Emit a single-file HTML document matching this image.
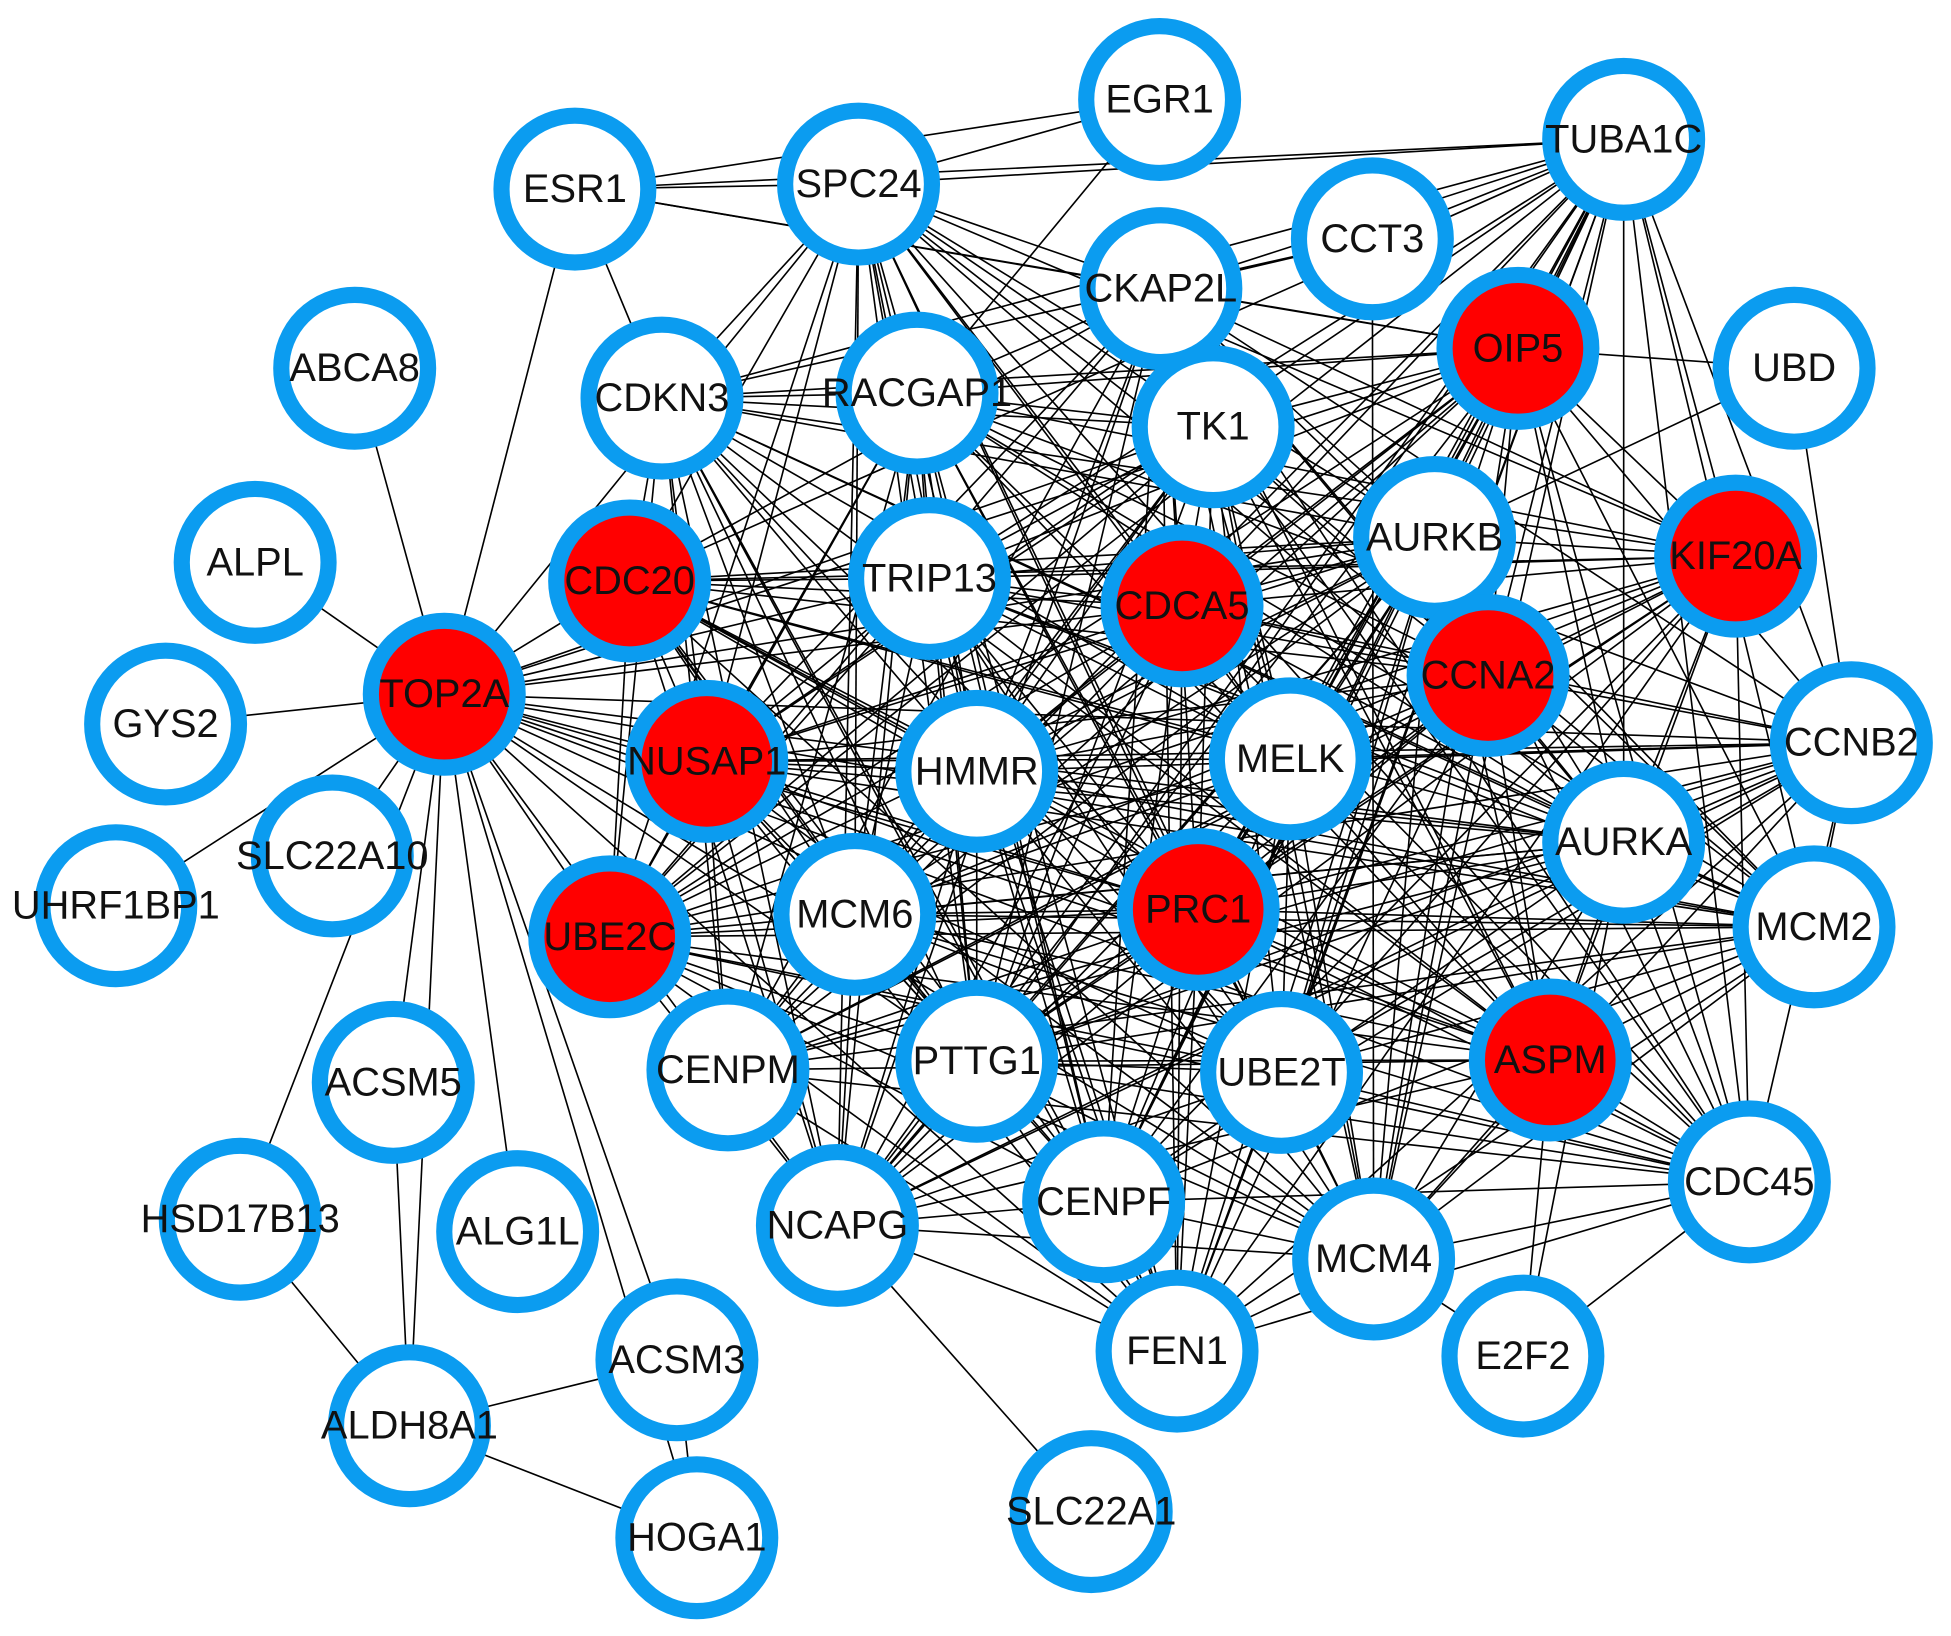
<!DOCTYPE html>
<html><head><meta charset="utf-8"><style>
html,body{margin:0;padding:0;background:#fff;}
svg{display:block;}
text{font-family:"Liberation Sans",Arial,sans-serif;font-size:32px;fill:#111;text-anchor:middle;dominant-baseline:central;}
</style></head><body>
<svg id="s" width="1951" height="1636" viewBox="0 0 1568 1315" xmlns="http://www.w3.org/2000/svg">
<g id="edges" stroke="#000" stroke-width="1.3"></g>
<g id="nodes">
<circle cx="932" cy="80" r="59" fill="#fff" stroke="#0b9cf0" stroke-width="13"/><text x="932" y="80">EGR1</text>
<circle cx="1305" cy="112" r="59" fill="#fff" stroke="#0b9cf0" stroke-width="13"/><text x="1305" y="112">TUBA1C</text>
<circle cx="462" cy="152" r="59" fill="#fff" stroke="#0b9cf0" stroke-width="13"/><text x="462" y="152">ESR1</text>
<circle cx="690" cy="148" r="59" fill="#fff" stroke="#0b9cf0" stroke-width="13"/><text x="690" y="148">SPC24</text>
<circle cx="1103" cy="192" r="59" fill="#fff" stroke="#0b9cf0" stroke-width="13"/><text x="1103" y="192">CCT3</text>
<circle cx="933" cy="232" r="59" fill="#fff" stroke="#0b9cf0" stroke-width="13"/><text x="933" y="232">CKAP2L</text>
<circle cx="1220" cy="280" r="59" fill="#f00" stroke="#0b9cf0" stroke-width="13"/><text x="1220" y="280">OIP5</text>
<circle cx="1442" cy="296" r="59" fill="#fff" stroke="#0b9cf0" stroke-width="13"/><text x="1442" y="296">UBD</text>
<circle cx="285" cy="296" r="59" fill="#fff" stroke="#0b9cf0" stroke-width="13"/><text x="285" y="296">ABCA8</text>
<circle cx="532" cy="320" r="59" fill="#fff" stroke="#0b9cf0" stroke-width="13"/><text x="532" y="320">CDKN3</text>
<circle cx="737" cy="316" r="59" fill="#fff" stroke="#0b9cf0" stroke-width="13"/><text x="737" y="316">RACGAP1</text>
<circle cx="975" cy="343" r="59" fill="#fff" stroke="#0b9cf0" stroke-width="13"/><text x="975" y="343">TK1</text>
<circle cx="1153" cy="432" r="59" fill="#fff" stroke="#0b9cf0" stroke-width="13"/><text x="1153" y="432">AURKB</text>
<circle cx="1395" cy="447" r="59" fill="#f00" stroke="#0b9cf0" stroke-width="13"/><text x="1395" y="447">KIF20A</text>
<circle cx="205" cy="452" r="59" fill="#fff" stroke="#0b9cf0" stroke-width="13"/><text x="205" y="452">ALPL</text>
<circle cx="506" cy="467" r="59" fill="#f00" stroke="#0b9cf0" stroke-width="13"/><text x="506" y="467">CDC20</text>
<circle cx="747" cy="465" r="59" fill="#fff" stroke="#0b9cf0" stroke-width="13"/><text x="747" y="465">TRIP13</text>
<circle cx="950" cy="487" r="59" fill="#f00" stroke="#0b9cf0" stroke-width="13"/><text x="950" y="487">CDCA5</text>
<circle cx="1196" cy="543" r="59" fill="#f00" stroke="#0b9cf0" stroke-width="13"/><text x="1196" y="543">CCNA2</text>
<circle cx="357" cy="558" r="59" fill="#f00" stroke="#0b9cf0" stroke-width="13"/><text x="357" y="558">TOP2A</text>
<circle cx="133" cy="582" r="59" fill="#fff" stroke="#0b9cf0" stroke-width="13"/><text x="133" y="582">GYS2</text>
<circle cx="1488" cy="597" r="59" fill="#fff" stroke="#0b9cf0" stroke-width="13"/><text x="1488" y="597">CCNB2</text>
<circle cx="568" cy="612" r="59" fill="#f00" stroke="#0b9cf0" stroke-width="13"/><text x="568" y="612">NUSAP1</text>
<circle cx="785" cy="620" r="59" fill="#fff" stroke="#0b9cf0" stroke-width="13"/><text x="785" y="620">HMMR</text>
<circle cx="1037" cy="610" r="59" fill="#fff" stroke="#0b9cf0" stroke-width="13"/><text x="1037" y="610">MELK</text>
<circle cx="1305" cy="677" r="59" fill="#fff" stroke="#0b9cf0" stroke-width="13"/><text x="1305" y="677">AURKA</text>
<circle cx="267" cy="688" r="59" fill="#fff" stroke="#0b9cf0" stroke-width="13"/><text x="267" y="688">SLC22A10</text>
<circle cx="93" cy="728" r="59" fill="#fff" stroke="#0b9cf0" stroke-width="13"/><text x="93" y="728">UHRF1BP1</text>
<circle cx="490" cy="753" r="59" fill="#f00" stroke="#0b9cf0" stroke-width="13"/><text x="490" y="753">UBE2C</text>
<circle cx="687" cy="735" r="59" fill="#fff" stroke="#0b9cf0" stroke-width="13"/><text x="687" y="735">MCM6</text>
<circle cx="963" cy="731" r="59" fill="#f00" stroke="#0b9cf0" stroke-width="13"/><text x="963" y="731">PRC1</text>
<circle cx="1458" cy="745" r="59" fill="#fff" stroke="#0b9cf0" stroke-width="13"/><text x="1458" y="745">MCM2</text>
<circle cx="585" cy="860" r="59" fill="#fff" stroke="#0b9cf0" stroke-width="13"/><text x="585" y="860">CENPM</text>
<circle cx="785" cy="853" r="59" fill="#fff" stroke="#0b9cf0" stroke-width="13"/><text x="785" y="853">PTTG1</text>
<circle cx="1030" cy="862" r="59" fill="#fff" stroke="#0b9cf0" stroke-width="13"/><text x="1030" y="862">UBE2T</text>
<circle cx="1246" cy="852" r="59" fill="#f00" stroke="#0b9cf0" stroke-width="13"/><text x="1246" y="852">ASPM</text>
<circle cx="316" cy="870" r="59" fill="#fff" stroke="#0b9cf0" stroke-width="13"/><text x="316" y="870">ACSM5</text>
<circle cx="1406" cy="950" r="59" fill="#fff" stroke="#0b9cf0" stroke-width="13"/><text x="1406" y="950">CDC45</text>
<circle cx="193" cy="980" r="59" fill="#fff" stroke="#0b9cf0" stroke-width="13"/><text x="193" y="980">HSD17B13</text>
<circle cx="416" cy="990" r="59" fill="#fff" stroke="#0b9cf0" stroke-width="13"/><text x="416" y="990">ALG1L</text>
<circle cx="673" cy="985" r="59" fill="#fff" stroke="#0b9cf0" stroke-width="13"/><text x="673" y="985">NCAPG</text>
<circle cx="887" cy="966" r="59" fill="#fff" stroke="#0b9cf0" stroke-width="13"/><text x="887" y="966">CENPF</text>
<circle cx="1104" cy="1012" r="59" fill="#fff" stroke="#0b9cf0" stroke-width="13"/><text x="1104" y="1012">MCM4</text>
<circle cx="946" cy="1086" r="59" fill="#fff" stroke="#0b9cf0" stroke-width="13"/><text x="946" y="1086">FEN1</text>
<circle cx="1224" cy="1090" r="59" fill="#fff" stroke="#0b9cf0" stroke-width="13"/><text x="1224" y="1090">E2F2</text>
<circle cx="544" cy="1093" r="59" fill="#fff" stroke="#0b9cf0" stroke-width="13"/><text x="544" y="1093">ACSM3</text>
<circle cx="329" cy="1146" r="59" fill="#fff" stroke="#0b9cf0" stroke-width="13"/><text x="329" y="1146">ALDH8A1</text>
<circle cx="877" cy="1215" r="59" fill="#fff" stroke="#0b9cf0" stroke-width="13"/><text x="877" y="1215">SLC22A1</text>
<circle cx="560" cy="1236" r="59" fill="#fff" stroke="#0b9cf0" stroke-width="13"/><text x="560" y="1236">HOGA1</text>
</g>
</svg>
<script>
(function(){
var P={};
var ts=document.querySelectorAll('#nodes text');
for(var k=0;k<ts.length;k++){var t=ts[k];P[t.textContent]=[+t.getAttribute('x'),+t.getAttribute('y')];}
var core=["SPC24","CKAP2L","OIP5","CDKN3","RACGAP1","TK1","AURKB","KIF20A","CDC20","TRIP13","CDCA5","CCNA2","TOP2A","CCNB2","NUSAP1","HMMR","MELK","AURKA","UBE2C","MCM6","PRC1","MCM2","CENPM","PTTG1","UBE2T","ASPM","CDC45","NCAPG","CENPF","MCM4","FEN1","TUBA1C"];
var E=[];var seed=7;function rnd(){seed=(seed*16807)%2147483647;return seed/2147483647;}
for(var i=0;i<core.length;i++)for(var j=i+1;j<core.length;j++){if(rnd()<0.8)E.push([core[i],core[j]]);}
var extra="TOP2A-ABCA8 TOP2A-ALPL TOP2A-GYS2 TOP2A-UHRF1BP1 TOP2A-SLC22A10 TOP2A-ESR1 TOP2A-ALDH8A1 TOP2A-ALG1L TOP2A-ACSM3 TOP2A-HOGA1 TOP2A-HSD17B13 TOP2A-ACSM5 ACSM5-ALDH8A1 HSD17B13-ALDH8A1 ALDH8A1-ACSM3 ALDH8A1-HOGA1 ACSM3-HOGA1 NCAPG-SLC22A1 ESR1-EGR1 ESR1-SPC24 ESR1-TUBA1C ESR1-CDKN3 ESR1-CKAP2L ESR1-OIP5 EGR1-RACGAP1 EGR1-SPC24 UBD-CCNB2 UBD-AURKB UBD-OIP5 E2F2-ASPM E2F2-CDC45 E2F2-MCM4 E2F2-AURKA CCT3-CKAP2L CCT3-TUBA1C CCT3-MCM4 CCT3-CDKN3";
var ex=extra.split(' ');
for(var m=0;m<ex.length;m++)E.push(ex[m].split('-'));
var g=document.getElementById('edges');
var NS="http://www.w3.org/2000/svg";
for(var n=0;n<E.length;n++){var a=P[E[n][0]],b=P[E[n][1]];if(!a||!b)continue;
var l=document.createElementNS(NS,'line');
l.setAttribute('x1',a[0]);l.setAttribute('y1',a[1]);l.setAttribute('x2',b[0]);l.setAttribute('y2',b[1]);
g.appendChild(l);}
})();
</script>
</body></html>
